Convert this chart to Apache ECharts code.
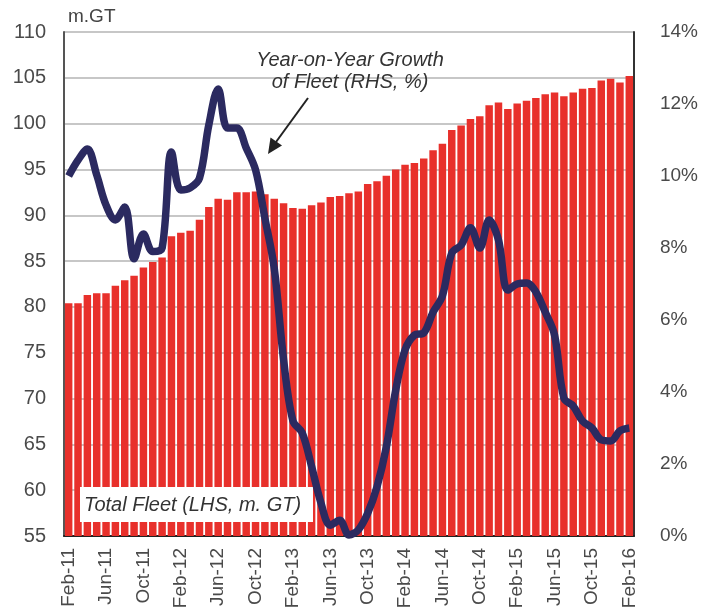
<!DOCTYPE html>
<html>
<head>
<meta charset="utf-8">
<script src="https://cdn.jsdelivr.net/npm/echarts@6/dist/echarts.min.js"></script>
<style>
html,body{margin:0;padding:0;background:#fff;}
#c{width:701px;height:613px;}
</style>
</head>
<body>
<div id="c"></div>
<script>
var months = ['Jan','Feb','Mar','Apr','May','Jun','Jul','Aug','Sep','Oct','Nov','Dec'];
var categories = [];
(function(){
  var m = 1, y = 11;
  for (var k = 0; k < 61; k++) {
    categories.push(months[m] + '-' + y);
    m++; if (m > 11) { m = 0; y++; }
  }
})();

var totalFleet = [
  80.4, 80.4, 81.3, 81.5, 81.5, 82.3, 82.9, 83.4, 84.3, 84.9,
  85.4, 87.7, 88.1, 88.3, 89.5, 90.9, 91.8, 91.7, 92.5, 92.5,
  92.6, 92.3, 91.8, 91.3, 90.8, 90.7, 91.1, 91.4, 92.0, 92.1,
  92.4, 92.6, 93.4, 93.7, 94.3, 95.0, 95.5, 95.7, 96.2, 97.1,
  97.8, 99.3, 99.8, 100.5, 100.8, 102.0, 102.3, 101.6, 102.2, 102.5,
  102.8, 103.2, 103.4, 103.0, 103.4, 103.8, 103.9, 104.7, 104.9, 104.5,
  105.2
];

var yoyGrowth = [
  10.0, 10.44, 10.75, 10.03, 9.19, 8.78, 9.14, 7.7, 8.39, 7.9,
  8.0, 10.67, 9.61, 9.67, 9.94, 11.42, 12.42, 11.33, 11.33, 10.78,
  10.17, 8.83, 7.44, 4.9, 3.2, 2.86, 1.93, 0.92, 0.3, 0.44,
  0.03, 0.17, 0.63, 1.37, 2.48, 4.05, 5.17, 5.58, 5.64, 6.22,
  6.67, 7.86, 8.08, 8.56, 8.0, 8.78, 8.22, 6.83, 7.0, 7.03,
  6.78, 6.22, 5.58, 3.83, 3.61, 3.19, 3.0, 2.67, 2.64, 2.92,
  3.0
];

var leftTicks = {min: 55, max: 110, interval: 5};
var rightTicks = {min: 0, max: 14, interval: 2};

var font = 'Liberation Sans, Arial, sans-serif';
var chart = echarts.init(document.getElementById('c'));
chart.setOption({
  animation: false,
  backgroundColor: '#fff',
  grid: {left: 64, right: 59, top: 32, bottom: 77},
  xAxis: {
    type: 'category',
    data: categories,
    boundaryGap: true,
    axisLine: {show: true, lineStyle: {color: '#222', width: 2}},
    axisTick: {show: false},
    axisLabel: {
      interval: 3, rotate: 90, margin: 12,
      fontSize: 19, color: '#4a4a4a', fontFamily: font
    },
    splitLine: {show: false}
  },
  yAxis: [
    {
      type: 'value', min: leftTicks.min, max: leftTicks.max, interval: leftTicks.interval,
      axisLine: {show: true, lineStyle: {color: '#555', width: 2}},
      axisTick: {show: false},
      axisLabel: {margin: 18, fontSize: 20, color: '#4a4a4a', fontFamily: font},
      splitLine: {show: true, lineStyle: {color: '#b5b5b5', width: 1.5}}
    },
    {
      type: 'value', min: rightTicks.min, max: rightTicks.max, interval: rightTicks.interval,
      position: 'right',
      axisLine: {show: true, lineStyle: {color: '#333', width: 2}},
      axisTick: {show: false},
      axisLabel: {margin: 26, fontSize: 19, color: '#4a4a4a', fontFamily: font, formatter: '{value}%'},
      splitLine: {show: false}
    }
  ],
  series: [
    {
      name: 'Total Fleet',
      type: 'bar',
      data: totalFleet,
      yAxisIndex: 0,
      barCategoryGap: '20%',
      itemStyle: {color: '#e8302b'},
      z: 1
    },
    {
      name: 'YoY Growth',
      type: 'line',
      data: yoyGrowth,
      yAxisIndex: 1,
      smooth: 0.35,
      showSymbol: false,
      symbol: 'none',
      lineStyle: {color: '#2b2a60', width: 7.5},
      z: 5
    }
  ],
  graphic: [
    {type: 'text', left: 68, top: 7, z: 10,
      style: {text: 'm.GT', font: '19px ' + font, fill: '#444'}},
    {type: 'text', x: 350, y: 60, z: 10,
      style: {text: 'Year-on-Year Growth', font: 'italic 20px ' + font, fill: '#333',
        textAlign: 'center', textVerticalAlign: 'middle'}},
    {type: 'text', x: 350, y: 82, z: 10,
      style: {text: 'of Fleet (RHS, %)', font: 'italic 20px ' + font, fill: '#333',
        textAlign: 'center', textVerticalAlign: 'middle'}},
    {type: 'line', z: 10,
      shape: {x1: 308, y1: 98, x2: 276, y2: 142},
      style: {stroke: '#222', lineWidth: 2}},
    {type: 'polygon', z: 10,
      shape: {points: [[268, 154], [282, 145.5], [270.5, 137.5]]},
      style: {fill: '#222'}},
    {type: 'rect', z: 3,
      shape: {x: 80, y: 487, width: 233, height: 35},
      style: {fill: '#fff'}},
    {type: 'text', x: 84, y: 505, z: 3,
      style: {text: 'Total Fleet (LHS, m. GT)', font: 'italic 20px ' + font, fill: '#333',
        textAlign: 'left', textVerticalAlign: 'middle'}}
  ]
});
</script>
</body>
</html>
